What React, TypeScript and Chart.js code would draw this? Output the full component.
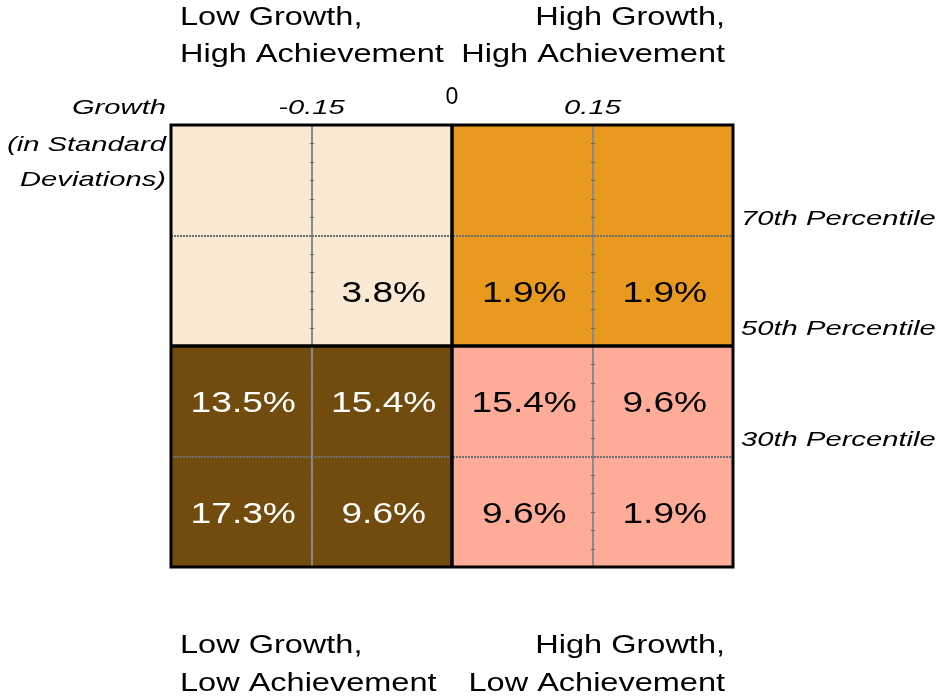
import { useEffect, useRef } from "react";
import { Chart, registerables } from "chart.js";

Chart.register(...registerables);

// ---- Data ----
// Columns: growth bins (in standard deviations), edges between them
const growthBins = ["< -0.15", "-0.15 to 0", "0 to 0.15", "> 0.15"];
const growthTickValues = [-0.15, 0, 0.15];
const growthTickLabels = ["-0.15", "0", "0.15"];
// Row edges: achievement percentile
const percentileEdges = [10, 30, 50, 70, 90];
const percentileLineValues = [70, 50, 30];
const percentileLabels = ["70th Percentile", "50th Percentile", "30th Percentile"];
// Share of schools (%) per cell, columns from low to high growth
const shareAbove70: (number | null)[] = [null, null, null, null];
const share50to70: (number | null)[] = [null, 3.8, 1.9, 1.9];
const share30to50: (number | null)[] = [13.5, 15.4, 15.4, 9.6];
const shareBelow30: (number | null)[] = [17.3, 9.6, 9.6, 1.9];
// Quadrant titles
const titleLowGrowthHighAch = ["Low Growth,", "High Achievement"];
const titleHighGrowthHighAch = ["High Growth,", "High Achievement"];
const titleLowGrowthLowAch = ["Low Growth,", "Low Achievement"];
const titleHighGrowthLowAch = ["High Growth,", "Low Achievement"];
const axisTitleLines = ["Growth", "(in Standard", "Deviations)"];

// ---- Styles ----
const colorLGHA = "#FAE9D2";
const colorHGHA = "#E8991E";
const colorLGLA = "#724C0E";
const colorHGLA = "#FEAC97";
const FONT = '"Liberation Sans", Arial, sans-serif';

const rowShares = [shareBelow30, share30to50, share50to70, shareAbove70];

function cellColor(lo: number, col: number) {
  const highAch = lo >= 50;
  const highGrowth = col >= growthBins.length / 2;
  if (highAch) return highGrowth ? colorHGHA : colorLGHA;
  return highGrowth ? colorHGLA : colorLGLA;
}

// pixel of a growth boundary value on the category scale (boundary k sits at index k - 0.5)
function growthPixel(xs: any, v: number) {
  const k = growthTickValues.indexOf(v) + 1;
  return xs.getPixelForValue(k - 0.5);
}

function drawText(
  ctx: CanvasRenderingContext2D,
  text: string,
  x: number,
  y: number,
  size: number,
  sx: number,
  align: CanvasTextAlign,
  color: string,
  italic = false
) {
  ctx.save();
  ctx.translate(x, y);
  ctx.scale(sx, 1);
  ctx.font = `${italic ? "italic " : ""}${size}px ${FONT}`;
  ctx.textAlign = align;
  ctx.textBaseline = "middle";
  ctx.fillStyle = color;
  ctx.fillText(text, 0, 0);
  ctx.restore();
}

const quadPlugin = {
  id: "quadPlugin",
  afterDatasetsDraw(chart: any) {
    const ctx: CanvasRenderingContext2D = chart.ctx;
    const xs = chart.scales.x;
    const ys = chart.scales.y;
    const { left, right, top, bottom } = chart.chartArea;
    ctx.save();
    // gray vertical lines with small ticks
    growthTickValues.forEach((v) => {
      if (v === 0) return;
      const x = Math.round(growthPixel(xs, v));
      ctx.strokeStyle = "#8a8a8a";
      ctx.lineWidth = 2;
      ctx.setLineDash([]);
      ctx.beginPath();
      ctx.moveTo(x, top);
      ctx.lineTo(x, bottom);
      ctx.stroke();
      ctx.strokeStyle = "#666";
      ctx.lineWidth = 1;
      for (let r = 0; r < percentileEdges.length - 1; r++) {
        const lo = percentileEdges[r];
        const hi = percentileEdges[r + 1];
        for (let k = 1; k < 6; k++) {
          const y = Math.round(ys.getPixelForValue(lo + ((hi - lo) * k) / 6)) + 0.5;
          ctx.beginPath();
          ctx.moveTo(x - 2, y);
          ctx.lineTo(x + 2, y);
          ctx.stroke();
        }
      }
    });
    // gray dotted horizontal lines
    percentileLineValues.forEach((p) => {
      if (p === 50) return;
      const y = Math.round(ys.getPixelForValue(p));
      ctx.strokeStyle = "#6e6e6e";
      ctx.lineWidth = 2;
      ctx.setLineDash([2, 1]);
      ctx.beginPath();
      ctx.moveTo(left, y);
      ctx.lineTo(right, y);
      ctx.stroke();
    });
    ctx.setLineDash([]);
    // black quadrant dividers
    ctx.strokeStyle = "#000";
    ctx.lineWidth = 3.5;
    const x0 = growthPixel(xs, 0);
    const y50 = ys.getPixelForValue(50);
    ctx.beginPath();
    ctx.moveTo(x0, top);
    ctx.lineTo(x0, bottom);
    ctx.moveTo(left, y50);
    ctx.lineTo(right, y50);
    ctx.stroke();
    ctx.lineWidth = 3;
    ctx.strokeRect(left, top, right - left, bottom - top);
    ctx.restore();

    // cell values
    rowShares.forEach((row, r) => {
      const lo = percentileEdges[r];
      const hi = percentileEdges[r + 1];
      const yc = ys.getPixelForValue((lo + hi) / 2) + 3;
      row.forEach((v, c) => {
        if (v === null) return;
        const xc = xs.getPixelForValue(c);
        const col = cellColor(lo, c) === colorLGLA ? "#fff" : "#000";
        drawText(ctx, v.toFixed(1) + "%", xc + 2, yc, 29, 1.28, "center", col);
      });
    });
  },
  afterDraw(chart: any) {
    const ctx: CanvasRenderingContext2D = chart.ctx;
    const xs = chart.scales.x;
    const ys = chart.scales.y;
    const { left, right, top, bottom } = chart.chartArea;
    // growth tick labels
    growthTickValues.forEach((v, i) => {
      const x = growthPixel(xs, v);
      if (v === 0) {
        drawText(ctx, growthTickLabels[i], x, top - 27, 23, 1, "center", "#000");
      } else {
        drawText(ctx, growthTickLabels[i], x, top - 17, 21, 1.39, "center", "#000", true);
      }
    });
    // percentile labels
    percentileLineValues.forEach((p, i) => {
      const y = ys.getPixelForValue(p);
      drawText(ctx, percentileLabels[i], right + 8, y - 16.5, 21, 1.39, "left", "#000", true);
    });
    // axis title
    const titleYs = [top - 17, top + 20, top + 55];
    axisTitleLines.forEach((t, i) => {
      drawText(ctx, t, left - 5, titleYs[i], 21, 1.39, "right", "#000", true);
    });
    // quadrant titles
    const lx = left + 9;
    const rx = right - 8;
    drawText(ctx, titleLowGrowthHighAch[0], lx, 18, 26, 1.25, "left", "#000");
    drawText(ctx, titleLowGrowthHighAch[1], lx, 55, 26, 1.25, "left", "#000");
    drawText(ctx, titleHighGrowthHighAch[0], rx, 18, 26, 1.25, "right", "#000");
    drawText(ctx, titleHighGrowthHighAch[1], rx, 55, 26, 1.25, "right", "#000");
    drawText(ctx, titleLowGrowthLowAch[0], lx, bottom + 79, 26, 1.25, "left", "#000");
    drawText(ctx, titleLowGrowthLowAch[1], lx, bottom + 117, 26, 1.25, "left", "#000");
    drawText(ctx, titleHighGrowthLowAch[0], rx, bottom + 79, 26, 1.25, "right", "#000");
    drawText(ctx, titleHighGrowthLowAch[1], rx, bottom + 117, 26, 1.25, "right", "#000");
  },
};

export default function App() {
  const ref = useRef<HTMLCanvasElement>(null);
  useEffect(() => {
    if (!ref.current) return;
    const datasets = rowShares.map((row, r) => {
      const lo = percentileEdges[r];
      const hi = percentileEdges[r + 1];
      return {
        label: `${lo}-${hi}`,
        data: growthBins.map(() => [lo, hi]),
        backgroundColor: growthBins.map((_, c) => cellColor(lo, c)),
        borderWidth: 0,
        borderSkipped: false,
        grouped: false,
        barPercentage: 1,
        categoryPercentage: 1,
      };
    });
    const chart = new Chart(ref.current, {
      type: "bar",
      data: { labels: growthBins, datasets: datasets as any },
      options: {
        animation: false,
        responsive: false,
        devicePixelRatio: 1,
        datasets: { bar: { barPercentage: 1, categoryPercentage: 1, grouped: false } },
        layout: { padding: { left: 171, top: 125, right: 209, bottom: 131 } },
        plugins: { legend: { display: false }, tooltip: { enabled: false } },
        scales: {
          x: {
            type: "category",
            offset: true,
            display: false,
          },
          y: {
            type: "linear",
            min: percentileEdges[0],
            max: percentileEdges[percentileEdges.length - 1],
            display: false,
          },
        },
      } as any,
      plugins: [quadPlugin],
    });
    return () => chart.destroy();
  }, []);
  return (
    <div style={{ position: "fixed", left: 0, top: 0, width: 942, height: 698, background: "#fff" }}>
      <canvas ref={ref} width={942} height={698} style={{ display: "block" }} />
    </div>
  );
}
